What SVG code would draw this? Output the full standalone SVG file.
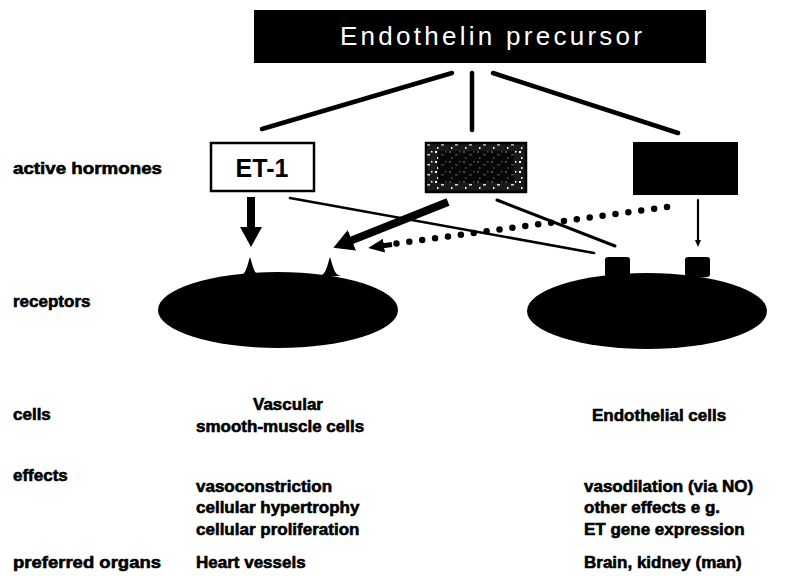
<svg xmlns="http://www.w3.org/2000/svg" width="787" height="576" viewBox="0 0 787 576">
<style>
  .lbl{font-family:"Liberation Sans",Arial,sans-serif;font-weight:bold;font-size:17px;fill:#000;stroke:#000;stroke-width:0.6}
  .title{font-family:"Liberation Sans",Arial,sans-serif;font-size:26px;fill:#fff}
  .et{font-family:"Liberation Sans",Arial,sans-serif;font-weight:bold;font-size:25px;fill:#000}
  .stem{stroke:#000;stroke-width:4.5;stroke-linecap:round;fill:none}
  .thin{stroke:#000;stroke-width:2.6;stroke-linecap:round;fill:none}
  .thick{stroke:#000;stroke-width:8;fill:none}
  .dots{stroke:#000;stroke-width:6.5;stroke-linecap:round;stroke-dasharray:0 13;fill:none}
  .cell{fill:#000}
</style>
<defs>
  <marker id="headBig" markerUnits="userSpaceOnUse" viewBox="0 0 20 22" refX="1" refY="11" markerWidth="20" markerHeight="22" orient="auto">
    <path d="M0,0 L20,11 L0,22 Z" fill="#000"/>
  </marker>
  <marker id="headMid" markerUnits="userSpaceOnUse" viewBox="0 0 16 14" refX="1" refY="7" markerWidth="16" markerHeight="14" orient="auto">
    <path d="M0,0 L16,7 L0,14 Z" fill="#000"/>
  </marker>
  <marker id="headSmall" markerUnits="userSpaceOnUse" viewBox="0 0 7 6" refX="1" refY="3" markerWidth="7" markerHeight="6" orient="auto">
    <path d="M0,0 L7,3 L0,6 Z" fill="#000"/>
  </marker>
  <pattern id="speckle" patternUnits="userSpaceOnUse" width="14" height="10">
    <rect width="14" height="10" fill="#1a1a1a"/>
    <rect x="1" y="1" width="2" height="2" fill="#fff"/>
    <rect x="7" y="4" width="3" height="1.5" fill="#ddd"/>
    <rect x="3" y="7" width="1.5" height="2" fill="#eee"/>
    <rect x="11" y="1" width="1.5" height="1.5" fill="#fff"/>
  </pattern>
</defs>

<g id="precursor">
  <rect x="254" y="10" width="452" height="53" fill="#000"/>
  <text class="title" x="340" y="45" textLength="302" lengthAdjust="spacing">Endothelin precursor</text>
</g>

<g id="et1">
  <rect x="211" y="143" width="103" height="48" fill="#fff" stroke="#000" stroke-width="2.5"/>
  <text class="et" x="262" y="177" text-anchor="middle">ET-1</text>
</g>
<g id="et2">
  <rect x="426" y="143" width="100" height="49" fill="url(#speckle)" stroke="#000" stroke-width="2.5"/>
  <rect x="438" y="151" width="76" height="32" fill="#000" opacity="0.7"/>
</g>
<g id="et3">
  <rect x="633" y="142" width="105" height="53" fill="#000"/>
</g>

<g id="smooth-muscle-cell">
  <ellipse class="cell" cx="278" cy="310" rx="120" ry="38"/>
  <path class="cell" d="M239,276 C246,275 247,266 250,257 C253,266 254,275 261,276 Z"/>
  <path class="cell" d="M319,276 C326,275 327,266 330,257 C333,266 334,275 341,276 Z"/>
</g>
<g id="endothelial-cell">
  <ellipse class="cell" cx="647" cy="311" rx="120" ry="38"/>
  <rect class="cell" x="605" y="257" width="25" height="20" rx="3"/>
  <rect class="cell" x="685" y="257" width="25" height="20" rx="3"/>
</g>

<g id="connectors">
  <line class="stem" x1="452" y1="73" x2="262" y2="129"/>
  <line class="stem" x1="472" y1="73" x2="472" y2="130"/>
  <line class="stem" x1="493" y1="73" x2="678" y2="133"/>
  <line class="thick" x1="251" y1="197" x2="251" y2="228" marker-end="url(#headBig)"/>
  <line class="thin" x1="290" y1="198" x2="594" y2="253"/>
  <line class="thin" x1="497" y1="200" x2="615" y2="246" style="stroke-width:3"/>
  <line class="thick" x1="448" y1="202" x2="351" y2="240.6" marker-end="url(#headBig)"/>
  <line class="dots" x1="667" y1="207" x2="394" y2="243.8"/>
  <line x1="392" y1="244.5" x2="383" y2="245.8" stroke="#000" stroke-width="5" marker-end="url(#headMid)"/>
  <line class="thin" x1="698" y1="200" x2="698" y2="241" style="stroke-width:2.2" marker-end="url(#headSmall)"/>
</g>

<g id="labels">
  <text class="lbl" x="13" y="174" textLength="149" lengthAdjust="spacingAndGlyphs">active hormones</text>
  <text class="lbl" x="13" y="307">receptors</text>
  <text class="lbl" x="13" y="420">cells</text>
  <text class="lbl" x="13" y="481">effects</text>
  <text class="lbl" x="13" y="568" textLength="148" lengthAdjust="spacingAndGlyphs">preferred organs</text>
</g>
<g id="smooth-muscle-text">
  <text class="lbl" x="288" y="410" text-anchor="middle">Vascular</text>
  <text class="lbl" x="196" y="432">smooth-muscle cells</text>
  <text class="lbl" x="196" y="492">vasoconstriction</text>
  <text class="lbl" x="196" y="513">cellular hypertrophy</text>
  <text class="lbl" x="196" y="535">cellular proliferation</text>
  <text class="lbl" x="196" y="568">Heart  vessels</text>
</g>
<g id="endothelial-text">
  <text class="lbl" x="592" y="421">Endothelial cells</text>
  <text class="lbl" x="584" y="492">vasodilation (via NO)</text>
  <text class="lbl" x="584" y="513">other effects e g.</text>
  <text class="lbl" x="584" y="535">ET gene expression</text>
  <text class="lbl" x="584" y="568">Brain, kidney (man)</text>
</g>
</svg>
